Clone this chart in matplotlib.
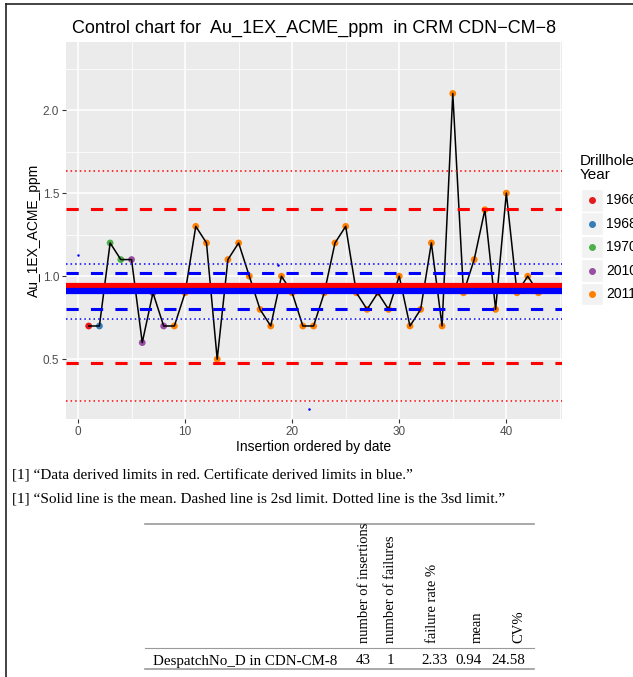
import numpy as np
import matplotlib
matplotlib.use('Agg')
import matplotlib.pyplot as plt
from matplotlib.lines import Line2D
from matplotlib.patches import Rectangle

# Au_1EX_ACME_ppm results for CRM CDN-CM-8, ordered by insertion date
au_ppm = [0.7, 0.7, 1.2, 1.1, 1.1, 0.6, 0.9, 0.7, 0.7, 0.9,
          1.3, 1.2, 0.5, 1.1, 1.2, 1.0, 0.8, 0.7, 1.0, 0.9,
          0.7, 0.7, 0.9, 1.2, 1.3, 0.9, 0.8, 0.9, 0.8, 1.0,
          0.7, 0.8, 1.2, 0.7, 2.1, 0.9, 1.1, 1.4, 0.8, 1.5,
          0.9, 1.0, 0.9]
hole_year = [1966, 1968, 1970, 1970, 2010, 2010, 2010, 2010] + [2011] * 35
insertion = np.arange(1, len(au_ppm) + 1)

years = [1966, 1968, 1970, 2010, 2011]
year_cols = ['#E41A1C', '#377EB8', '#4DAF4A', '#984EA3', '#FF7F00']

# stray certificate points
cert_x = [0, 18.7, 21.6]
cert_y = [1.13, 1.065, 0.2]

# limits: data derived (red) and certificate derived (blue)
data_mean = 0.94
data_cv = 24.58
data_sd = data_mean * data_cv / 100
cert_mean = 0.91
cert_sd = 0.055

# summary table
tab_row = 'DespatchNo_D in CDN-CM-8'
tab_head = ['number of insertions', 'number of failures', 'failure rate %', 'mean', 'CV%']
tab_vals = ['43', '1', '2.33', '0.94', '24.58']

W, H = 633, 677
fig = plt.figure(figsize=(W / 100, H / 100), dpi=100)
fig.patch.set_facecolor('white')

def fx(px):
    return px / W

def fy(py):
    return 1 - py / H

ax = fig.add_axes([fx(66), fy(419), fx(562) - fx(66), fy(42) - fy(419)])
ax.set_facecolor('#EBEBEB')
for s in ax.spines.values():
    s.set_visible(False)

ax.set_xlim(-1.12, 45.2)
ax.set_ylim(0.14, 2.41)
ax.set_xticks([0, 10, 20, 30, 40])
ax.set_xticks([5, 15, 25, 35, 45], minor=True)
ax.set_yticks([0.5, 1.0, 1.5, 2.0])
ax.set_yticks([0.25, 0.75, 1.25, 1.75, 2.25], minor=True)
ax.grid(which='major', color='white', lw=1.1)
ax.grid(which='minor', color='white', lw=0.55)
ax.set_axisbelow(True)
ax.tick_params(which='major', length=3, width=0.8, color='#333333',
               labelsize=8.5, labelcolor='#4D4D4D', pad=2)
ax.tick_params(which='minor', length=0)
for lab in ax.get_xticklabels() + ax.get_yticklabels():
    lab.set_family('Liberation Sans')

cols = [year_cols[years.index(y)] for y in hole_year]
ax.scatter(insertion, au_ppm, c=cols, s=24, zorder=2, linewidths=0)
ax.plot(insertion, au_ppm, color='black', lw=1.1, zorder=2.5)
ax.plot(cert_x, cert_y, 'o', color='blue', ms=1.8, mew=0, zorder=2.5)

dash = (0, (4, 4))
dot = (0, (1, 2))
ax.axhline(data_mean, color='red', lw=4.5, zorder=3)
ax.axhline(data_mean + 2 * data_sd, color='red', lw=2.2, ls=dash, zorder=3)
ax.axhline(data_mean - 2 * data_sd, color='red', lw=2.2, ls=dash, zorder=3)
ax.axhline(data_mean + 3 * data_sd, color='red', lw=1.1, ls=dot, zorder=3)
ax.axhline(data_mean - 3 * data_sd, color='red', lw=1.1, ls=dot, zorder=3)
ax.axhline(cert_mean, color='blue', lw=4.5, zorder=3)
ax.axhline(cert_mean + 2 * cert_sd, color='blue', lw=2.2, ls=dash, zorder=3)
ax.axhline(cert_mean - 2 * cert_sd, color='blue', lw=2.2, ls=dash, zorder=3)
ax.axhline(cert_mean + 3 * cert_sd, color='blue', lw=1.1, ls=dot, zorder=3)
ax.axhline(cert_mean - 3 * cert_sd, color='blue', lw=1.1, ls=dot, zorder=3)

sans = 'Liberation Sans'
fig.text(fx(314), fy(28), 'Control chart for  Au_1EX_ACME_ppm  in CRM CDN\u2212CM\u22128',
         ha='center', va='center', fontsize=13, family=sans)
fig.text(fx(314), fy(447), 'Insertion ordered by date', ha='center', va='center',
         fontsize=10, family=sans)
fig.text(fx(34), fy(230), 'Au_1EX_ACME_ppm', ha='center', va='center', rotation=90,
         fontsize=10, family=sans)

# legend
fig.text(fx(580), fy(168), 'Drillhole\nYear', ha='left', va='center', fontsize=11,
         family=sans, linespacing=1.0)
for i, (yr, c) in enumerate(zip(years, year_cols)):
    yc = 200 + i * 23.5
    fig.patches.append(Rectangle((fx(581), fy(yc + 11.5)), fx(22), fy(yc - 11.5) - fy(yc + 11.5),
                                 transform=fig.transFigure, facecolor='#F2F2F2',
                                 edgecolor='white', lw=1))
    fig.lines.append(Line2D([fx(592)], [fy(yc)], marker='o', ms=5, mew=0, color=c,
                            transform=fig.transFigure))
    fig.text(fx(606), fy(yc), str(yr), ha='left', va='center', fontsize=10, family=sans)

# notes under the chart
serif = 'Liberation Serif'
fig.text(fx(12), fy(476), '[1] \u201cData derived limits in red. Certificate derived limits in blue.\u201d',
         ha='left', va='center', fontsize=11, family=serif)
fig.text(fx(12), fy(499), '[1] \u201cSolid line is the mean. Dashed line is 2sd limit. Dotted line is the 3sd limit.\u201d',
         ha='left', va='center', fontsize=11, family=serif)

# summary table
rule = '#9A9A9A'
for yy, lw in [(524, 1.2), (648, 0.8), (669, 1.2)]:
    fig.lines.append(Line2D([fx(145), fx(534)], [fy(yy), fy(yy)], color=rule, lw=lw,
                            transform=fig.transFigure))
fig.text(fx(153), fy(661), tab_row, ha='left', va='center', fontsize=10.8, family=serif)
head_x = [364, 391, 433, 477, 519]
val_x = [371, 394, 448, 482, 525]
for hx, vx, h, v in zip(head_x, val_x, tab_head, tab_vals):
    fig.text(fx(hx), fy(643), h, ha='center', va='bottom', rotation=90,
             fontsize=10.5, family=serif)
    fig.text(fx(vx), fy(661), v, ha='right', va='center', fontsize=10.8, family=serif)

# page border
fig.lines.append(Line2D([fx(6), fx(6)], [fy(4), 0], color='#222222', lw=1.2,
                        transform=fig.transFigure))
fig.lines.append(Line2D([fx(6), 1], [fy(4), fy(4)], color='#222222', lw=1.2,
                        transform=fig.transFigure))

fig.savefig('out.png', dpi=100)
